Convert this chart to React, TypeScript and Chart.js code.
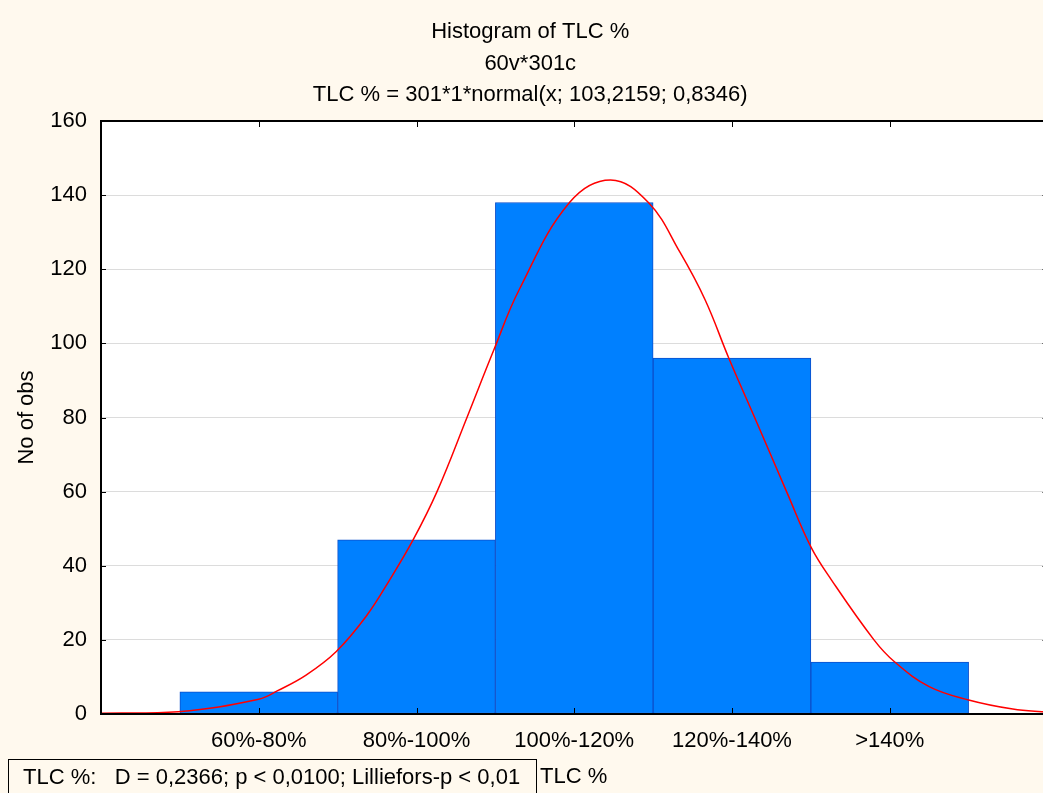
import React, { useEffect, useRef } from 'react';
import { Chart, registerables } from 'chart.js';

Chart.register(...registerables);

// ---- data ----
const categories: string[] = ['60%-80%', '80%-100%', '100%-120%', '120%-140%', '>140%'];
const binPositions: number[] = [0, 1, 2, 3, 4];
const counts: number[] = [6, 47, 138, 96, 14];

// fitted normal curve (x in bin units, 60%-80% = 0)
const curveX: number[] = [-1.0, -0.51, 0, 0.12, 0.3, 0.49, 0.68, 0.83, 0.98, 1.13, 1.32, 1.49, 1.65, 1.97, 2.23, 2.47, 2.67, 2.83, 2.98, 3.16, 3.35, 3.5, 3.63, 3.9, 4.03, 4.25, 4.5, 4.78, 5.0];
const curveY: number[] = [0.2, 0.6, 4.0, 6.3, 10.5, 16.8, 26.3, 36.2, 47.1, 60, 80, 98.2, 114.4, 138, 144.1, 138, 124.6, 111.7, 96, 78.4, 59.6, 45.1, 36.2, 20, 14.1, 7.4, 3.8, 1.35, 0.5];

const yTickValues: number[] = [0, 20, 40, 60, 80, 100, 120, 140, 160];

const titleLines: string[] = ['Histogram of TLC %', '60v*301c', 'TLC % = 301*1*normal(x; 103,2159; 0,8346)'];
const yTitle = 'No of obs';
const statsText = 'TLC %:   D = 0,2366; p < 0,0100; Lilliefors-p < 0,01';
const xTitle = 'TLC %';

const FONT = "'Liberation Sans', Arial, sans-serif";
const FS = 22;
const CREAM = '#FFF9EE';

const framePlugin = {
  id: 'framePlugin',
  beforeDraw(chart: any) {
    const { ctx, chartArea } = chart;
    ctx.save();
    ctx.fillStyle = '#FFFFFF';
    ctx.fillRect(chartArea.left, chartArea.top, chartArea.right - chartArea.left, chartArea.bottom - chartArea.top);
    ctx.restore();
  },
  afterDatasetsDraw(chart: any) {
    const { ctx, chartArea } = chart;
    const xs = chart.scales.x;
    const ys = chart.scales.y;
    ctx.save();
    ctx.strokeStyle = '#000000';
    ctx.lineWidth = 1;
    ctx.beginPath();
    yTickValues.forEach((v) => {
      const py = Math.round(ys.getPixelForValue(v)) + 0.5;
      ctx.moveTo(chartArea.left, py);
      ctx.lineTo(chartArea.left + 5, py);
      ctx.moveTo(chartArea.right, py);
      ctx.lineTo(chartArea.right - 5, py);
    });
    binPositions.forEach((v) => {
      const px = Math.round(xs.getPixelForValue(v)) + 0.5;
      ctx.moveTo(px, chartArea.bottom);
      ctx.lineTo(px, chartArea.bottom - 6);
      ctx.moveTo(px, chartArea.top);
      ctx.lineTo(px, chartArea.top + 6);
    });
    ctx.stroke();
    ctx.lineWidth = 2;
    ctx.strokeRect(chartArea.left, chartArea.top, chartArea.right - chartArea.left, chartArea.bottom - chartArea.top);
    ctx.restore();
  },
};

export default function App() {
  const canvasRef = useRef<HTMLCanvasElement | null>(null);

  useEffect(() => {
    if (!canvasRef.current) return;
    const chart = new Chart(canvasRef.current, {
      type: 'bar',
      data: {
        datasets: [
          {
            type: 'line',
            data: curveX.map((x, i) => ({ x, y: curveY[i] })),
            borderColor: '#FF0000',
            borderWidth: 1.5,
            pointRadius: 0,
            tension: 0.4,
            fill: false,
            order: 0,
          } as any,
          {
            type: 'bar',
            data: binPositions.map((x, i) => ({ x, y: counts[i] })),
            backgroundColor: '#0080FF',
            borderColor: '#0C4FCB',
            borderWidth: 1,
            borderSkipped: false,
            barPercentage: 1,
            categoryPercentage: 1,
            order: 1,
          } as any,
        ],
      },
      options: {
        responsive: false,
        animation: false,
        events: [],
        layout: { padding: { left: 13, right: 2.5, top: 0, bottom: 0 } },
        plugins: {
          legend: { display: false },
          tooltip: { enabled: false },
          title: {
            display: true,
            text: titleLines,
            color: '#000000',
            font: { family: FONT, size: FS, weight: 'normal', lineHeight: 31.5 / FS },
            padding: { top: 16.5, bottom: 10 },
          },
        },
        scales: {
          x: {
            type: 'linear',
            min: -1,
            max: 5,
            offset: false,
            grid: { display: false, drawTicks: false },
            border: { display: false },
            ticks: {
              stepSize: 1,
              autoSkip: false,
              maxRotation: 0,
              padding: 14,
              color: '#000000',
              font: { family: FONT, size: FS },
              callback: (v: any) => {
                const i = binPositions.indexOf(Number(v));
                return i >= 0 ? categories[i] : '';
              },
            },
            afterFit: (scale: any) => {
              scale.height = 79;
              scale.paddingLeft = 0;
              scale.paddingRight = 0;
            },
          },
          y: {
            min: 0,
            max: 160,
            grid: { color: '#DCDCDC', lineWidth: 1, drawTicks: false },
            border: { display: false },
            ticks: {
              stepSize: 20,
              padding: 14,
              color: '#000000',
              font: { family: FONT, size: FS },
            },
            title: {
              display: true,
              text: yTitle,
              color: '#000000',
              font: { family: FONT, size: FS },
              padding: { top: 1, bottom: 0 },
            },
            afterFit: (scale: any) => {
              scale.width = 88;
            },
          },
        },
      },
      plugins: [framePlugin],
    } as any);
    return () => chart.destroy();
  }, []);

  return (
    <div
      style={{
        position: 'fixed',
        left: 0,
        top: 0,
        width: 1043,
        height: 793,
        overflow: 'hidden',
        background: CREAM,
      }}
    >
      <canvas ref={canvasRef} width={1050} height={793} style={{ display: 'block', width: 1050, height: 793 }} />
      <div
        style={{
          position: 'absolute',
          left: 8,
          top: 759,
          width: 529,
          height: 45,
          border: '1px solid #000',
          boxSizing: 'border-box',
          paddingLeft: 14,
          lineHeight: '34px',
          fontFamily: FONT,
          fontSize: FS,
          color: '#000',
          whiteSpace: 'pre',
        }}
      >
        {statsText}
      </div>
      <div
        style={{
          position: 'absolute',
          left: 540,
          top: 759,
          lineHeight: '34px',
          fontFamily: FONT,
          fontSize: FS,
          color: '#000',
          whiteSpace: 'pre',
        }}
      >
        {xTitle}
      </div>
    </div>
  );
}
